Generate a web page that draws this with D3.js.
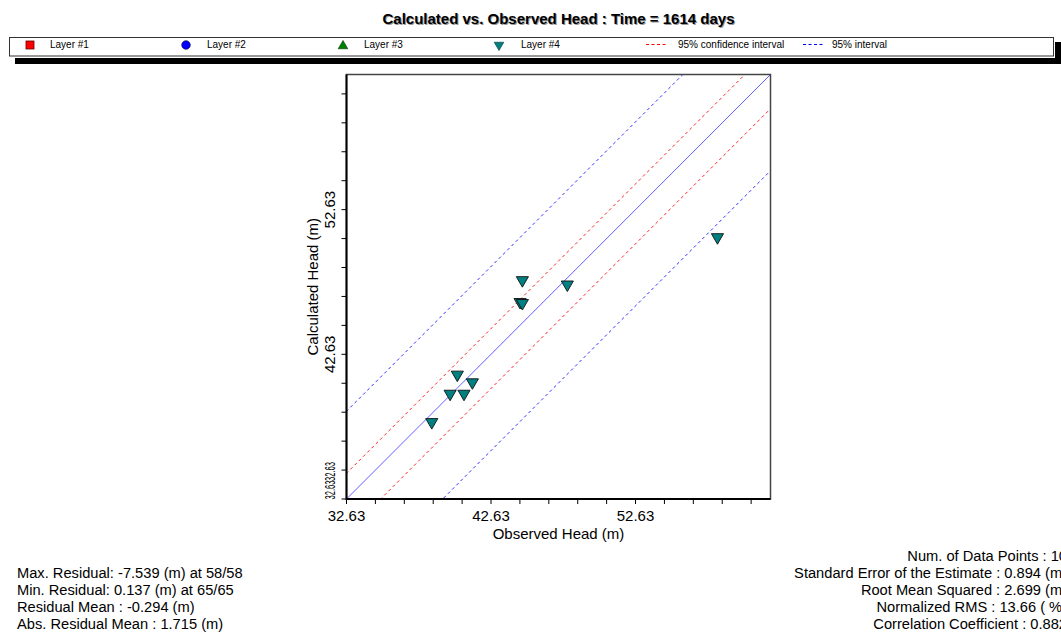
<!DOCTYPE html>
<html>
<head>
<meta charset="utf-8">
<script src="https://cdn.jsdelivr.net/npm/d3@7"></script>
<style>
  body { margin: 0; background: #fff; }
  text { font-family: "Liberation Sans", Arial, sans-serif; }
</style>
</head>
<body>
<div id="chart"></div>
<script>
// observed vs calculated heads (m)
var observed   = [44.80, 47.91, 44.64, 44.80, 40.30, 41.34, 39.80, 40.76, 38.53, 58.30];
var calculated = [47.79, 47.49, 46.28, 46.21, 41.26, 40.73, 39.94, 39.94, 37.98, 50.76];

var axisMin = 32.63, axisMax = 61.97;
var tickStep = 2;
var labelTicks = ["32.63", "42.63", "52.63"];

// offsets from the 1:1 line
var residualMean = -0.294;
var confHalf = 2.07;   // 95% confidence interval
var predHalf = 6.36;   // 95% interval

var legendLabels = ["Layer #1", "Layer #2", "Layer #3", "Layer #4", "95% confidence interval", "95% interval"];

var statsLeft = [
    "Max. Residual: -7.539 (m) at 58/58",
    "Min. Residual: 0.137 (m) at 65/65",
    "Residual Mean : -0.294 (m)",
    "Abs. Residual Mean : 1.715 (m)"
];
var statsRight = [
    "Num. of Data Points : 10",
    "Standard Error of the Estimate : 0.894 (m)",
    "Root Mean Squared : 2.699 (m)",
    "Normalized RMS : 13.66 ( %)",
    "Correlation Coefficient : 0.882"
];

drawChart();

function drawChart() {
    var width = 1061, height = 635;

    var svg = d3.select("#chart").append("svg")
        .attr("width", width)
        .attr("height", height);

    // title with its grey shadow
    var title = "Calculated vs. Observed Head : Time = 1614 days";
    svg.append("text").attr("x", 559.5).attr("y", 24.5)
        .attr("text-anchor", "middle").style("font-size", "15px").style("font-weight", "bold")
        .attr("fill", "#999").text(title);
    svg.append("text").attr("x", 558.5).attr("y", 23.5)
        .attr("text-anchor", "middle").style("font-size", "15px").style("font-weight", "bold")
        .attr("fill", "#000").text(title);

    // legend box + shadow
    svg.append("rect").attr("x", 15).attr("y", 58).attr("width", 1046).attr("height", 6).attr("fill", "#000");
    svg.append("rect").attr("x", 1055).attr("y", 42).attr("width", 6).attr("height", 22).attr("fill", "#000");
    svg.append("rect").attr("x", 9.5).attr("y", 37.5).attr("width", 1044).attr("height", 18.5)
        .attr("fill", "#fff").attr("stroke", "#333");

    var legX = [50, 207, 364, 521, 678, 832];
    var legY = 48;
    var leg = svg.append("g");
    leg.selectAll("text").data(legendLabels).enter().append("text")
        .attr("x", function (d, i) { return legX[i]; })
        .attr("y", legY)
        .style("font-size", "10px")
        .text(function (d) { return d; });

    leg.append("rect").attr("x", 26).attr("y", 41).attr("width", 8).attr("height", 8)
        .attr("fill", "#f00").attr("stroke", "#600").attr("stroke-width", 0.8);
    leg.append("circle").attr("cx", 186).attr("cy", 45).attr("r", 4.3)
        .attr("fill", "#00f").attr("stroke", "#003").attr("stroke-width", 0.6);
    leg.append("path").attr("d", d3.symbol().type(d3.symbolTriangle).size(40))
        .attr("transform", "translate(343,46)").attr("fill", "#008000").attr("stroke", "#030").attr("stroke-width", 0.6);
    leg.append("path").attr("d", d3.symbol().type(d3.symbolTriangle).size(40))
        .attr("transform", "translate(499,45) rotate(180)").attr("fill", "#008080").attr("stroke", "#033").attr("stroke-width", 0.6);
    leg.append("line").attr("x1", 646).attr("x2", 667).attr("y1", 44.5).attr("y2", 44.5)
        .attr("stroke", "#f00").attr("stroke-dasharray", "3,2.5");
    leg.append("line").attr("x1", 803).attr("x2", 824).attr("y1", 44.5).attr("y2", 44.5)
        .attr("stroke", "#00f").attr("stroke-dasharray", "3,2.5");

    // plot area
    var pLeft = 346.5, pRight = 770.5, pTop = 74.5, pBottom = 499;
    var x = d3.scaleLinear().domain([axisMin, axisMax]).range([pLeft, pRight]);
    var y = d3.scaleLinear().domain([axisMin, axisMax]).range([pBottom, pTop]);

    svg.append("clipPath").attr("id", "clip").append("rect")
        .attr("x", pLeft).attr("y", pTop).attr("width", pRight - pLeft).attr("height", pBottom - pTop);

    var plot = svg.append("g").attr("clip-path", "url(#clip)");

    var diagLines = [
        { off: residualMean + predHalf, color: "#3030ff", dash: "3,3" },
        { off: residualMean - predHalf, color: "#3030ff", dash: "3,3" },
        { off: residualMean + confHalf, color: "#ff2020", dash: "3,3" },
        { off: residualMean - confHalf, color: "#ff2020", dash: "3,3" },
        { off: 0, color: "#6060ff", dash: null }
    ];
    plot.selectAll("line.diag").data(diagLines).enter().append("line")
        .attr("class", "diag")
        .attr("x1", x(axisMin - 10)).attr("y1", function (d) { return y(axisMin - 10 + d.off); })
        .attr("x2", x(axisMax + 10)).attr("y2", function (d) { return y(axisMax + 10 + d.off); })
        .attr("stroke", function (d) { return d.color; })
        .attr("stroke-width", 1)
        .attr("stroke-dasharray", function (d) { return d.dash; });

    var pts = observed.map(function (o, i) { return { obs: o, calc: calculated[i] }; });
    plot.selectAll("path.pt").data(pts).enter().append("path")
        .attr("class", "pt")
        .attr("d", d3.symbol().type(d3.symbolTriangle).size(64))
        .attr("transform", function (d) { return "translate(" + x(d.obs) + "," + (y(d.calc) + 0.5) + ") rotate(180)"; })
        .attr("fill", "#008080")
        .attr("stroke", "#111")
        .attr("stroke-width", 0.9);

    // frame
    svg.append("rect").attr("x", pLeft).attr("y", pTop).attr("width", pRight - pLeft).attr("height", pBottom - pTop)
        .attr("fill", "none").attr("stroke", "#444").attr("stroke-width", 1.5);
    svg.append("path").attr("d", "M" + pLeft + "," + pTop + "V" + pBottom + "H" + pRight)
        .attr("fill", "none").attr("stroke", "#000").attr("stroke-width", 2);

    // ticks
    var ticks = d3.range(axisMin, axisMax, tickStep);
    svg.selectAll("line.xt").data(ticks).enter().append("line")
        .attr("x1", function (d) { return x(d); }).attr("x2", function (d) { return x(d); })
        .attr("y1", pBottom).attr("y2", pBottom + 5)
        .attr("stroke", "#000");
    svg.selectAll("line.yt").data(ticks).enter().append("line")
        .attr("y1", function (d) { return y(d); }).attr("y2", function (d) { return y(d); })
        .attr("x1", pLeft - 5).attr("x2", pLeft)
        .attr("stroke", "#000");

    svg.selectAll("text.xl").data(labelTicks).enter().append("text")
        .attr("x", function (d) { return x(+d); })
        .attr("y", 521)
        .attr("text-anchor", "middle")
        .style("font-size", "15px")
        .text(function (d) { return d; });

    // y labels, rotated; the lowest value is printed twice, squeezed and stacked
    var yLab = svg.append("g");
    yLab.selectAll("text").data(labelTicks.slice(1)).enter().append("text")
        .attr("transform", function (d) { return "translate(335," + y(+d) + ") rotate(-90)"; })
        .attr("text-anchor", "middle")
        .style("font-size", "15px")
        .text(function (d) { return d; });
    [471.5, 490].forEach(function (cy) {
        yLab.append("text")
            .attr("transform", "translate(335," + (cy + 9.5) + ") rotate(-90)")
            .attr("text-anchor", "start")
            .attr("textLength", 19)
            .attr("lengthAdjust", "spacingAndGlyphs")
            .style("font-size", "15px")
            .text(labelTicks[0]);
    });

    svg.append("text").attr("x", (pLeft + pRight) / 2).attr("y", 539)
        .attr("text-anchor", "middle").style("font-size", "15px").text("Observed Head (m)");
    svg.append("text").attr("transform", "translate(318," + (pTop + pBottom) / 2 + ") rotate(-90)")
        .attr("text-anchor", "middle").style("font-size", "15px").text("Calculated Head (m)");

    // statistics
    svg.selectAll("text.sl").data(statsLeft).enter().append("text")
        .attr("x", 17).attr("y", function (d, i) { return 578 + i * 17; })
        .style("font-size", "14.67px")
        .text(function (d) { return d; });
    svg.selectAll("text.sr").data(statsRight).enter().append("text")
        .attr("x", 1067).attr("y", function (d, i) { return 561 + i * 17; })
        .attr("text-anchor", "end")
        .style("font-size", "14.67px")
        .text(function (d) { return d; });
}
</script>
</body>
</html>
